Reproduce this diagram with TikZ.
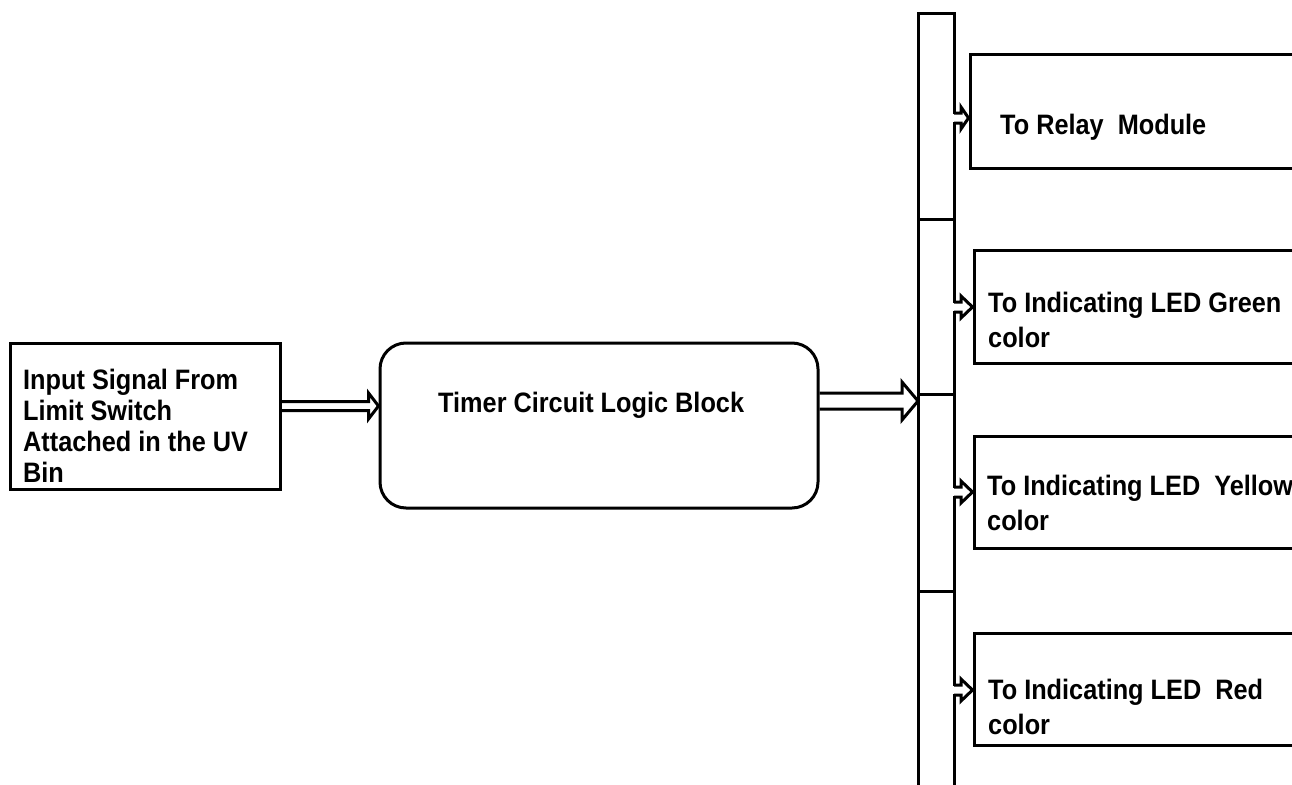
\documentclass[tikz,border=0pt]{standalone}
\usepackage{fontspec}
\setmainfont{Liberation Sans}[FakeStretch=0.9]
\usetikzlibrary{calc}
\begin{document}
\begin{tikzpicture}[x=1pt,y=-1pt,
  ln/.style={line width=3pt,line join=miter},
  box/.style={ln,draw,rectangle,inner sep=0pt},
  txt/.style={inner sep=0pt,anchor=base west,align=left,
    font=\fontsize{28.1}{35}\selectfont\bfseries},
  arw/.style={ln,draw,line join=miter}]
\useasboundingbox (0,0) rectangle (1292,784);
% boxes
\node[box,minimum width=270pt,minimum height=146pt] (in) at (145,416) {};
\node[box,rounded corners=26pt,minimum width=438pt,minimum height=165pt] (tm) at (599,425.5) {};
\node[box,minimum width=340pt,minimum height=113pt] (relay) at (1140,111.5) {};
\node[box,minimum width=336pt,minimum height=113pt] (green) at (1142,306.5) {};
\node[box,minimum width=336pt,minimum height=112pt] (yellow) at (1142,492) {};
\node[box,minimum width=336pt,minimum height=112pt] (red) at (1142,689) {};
% bus
\coordinate (bustop) at (918,14);
\coordinate (busbot) at (954,800);
\draw[ln] (918,800) -- (bustop) -- (954,14) -- (busbot);
\coordinate (d1) at (918,219);
\coordinate (d2) at (918,394);
\coordinate (d3) at (918,591);
\foreach \d in {d1,d2,d3} \draw[ln] (\d) -- ++(36,0);
% texts (anchored at the baseline of the last line)
\node[txt,font=\fontsize{28.1}{31}\selectfont\bfseries] (tin) at (23,482) {Input Signal From\\Limit Switch\\Attached in the UV\\Bin};
\node[txt] (ttm) at (438,412) {Timer Circuit Logic Block};
\node[txt] (trelay) at (1000,134) {To Relay\ \ Module};
\node[txt] (tgreen) at (988,347) {To Indicating LED Green\\color};
\node[txt] (tyellow) at (987,530) {To Indicating LED\ \ Yellow\\color};
\node[txt] (tred) at (988,734) {To Indicating LED\ \ Red\\color};
% arrow input -> timer
\coordinate (a1) at (0,406);
\coordinate (a1t) at (tm.west |- a1);
\draw[arw] ($(in.east |- a1)+(0,-4.5)$) -- ($(a1t)+(-10,-4.5)$) -- ($(a1t)+(-10,-13)$)
  -- (a1t) -- ($(a1t)+(-10,13)$) -- ($(a1t)+(-10,4.5)$) -- ($(in.east |- a1)+(0,4.5)$);
% arrow timer -> bus
\coordinate (busin) at (918,401);
\draw[arw] ($(tm.east |- busin)+(0,-8)$) -- ($(busin)+(-16,-8)$) -- ($(busin)+(-16,-19)$)
  -- (busin) -- ($(busin)+(-16,19)$) -- ($(busin)+(-16,8)$) -- ($(tm.east |- busin)+(0,8)$);
% small arrows bus -> boxes
\foreach \b/\c in {relay/118,green/307,yellow/492,red/690}{
  \fill[white] (951,\c-4) rectangle (957,\c+4);
  \draw[arw] (954,\c-5) -- (961,\c-5) -- (961,\c-11) -- (\b.west |- 0,\c)
    -- (961,\c+11) -- (961,\c+5) -- (954,\c+5);
}
\end{tikzpicture}
\end{document}
